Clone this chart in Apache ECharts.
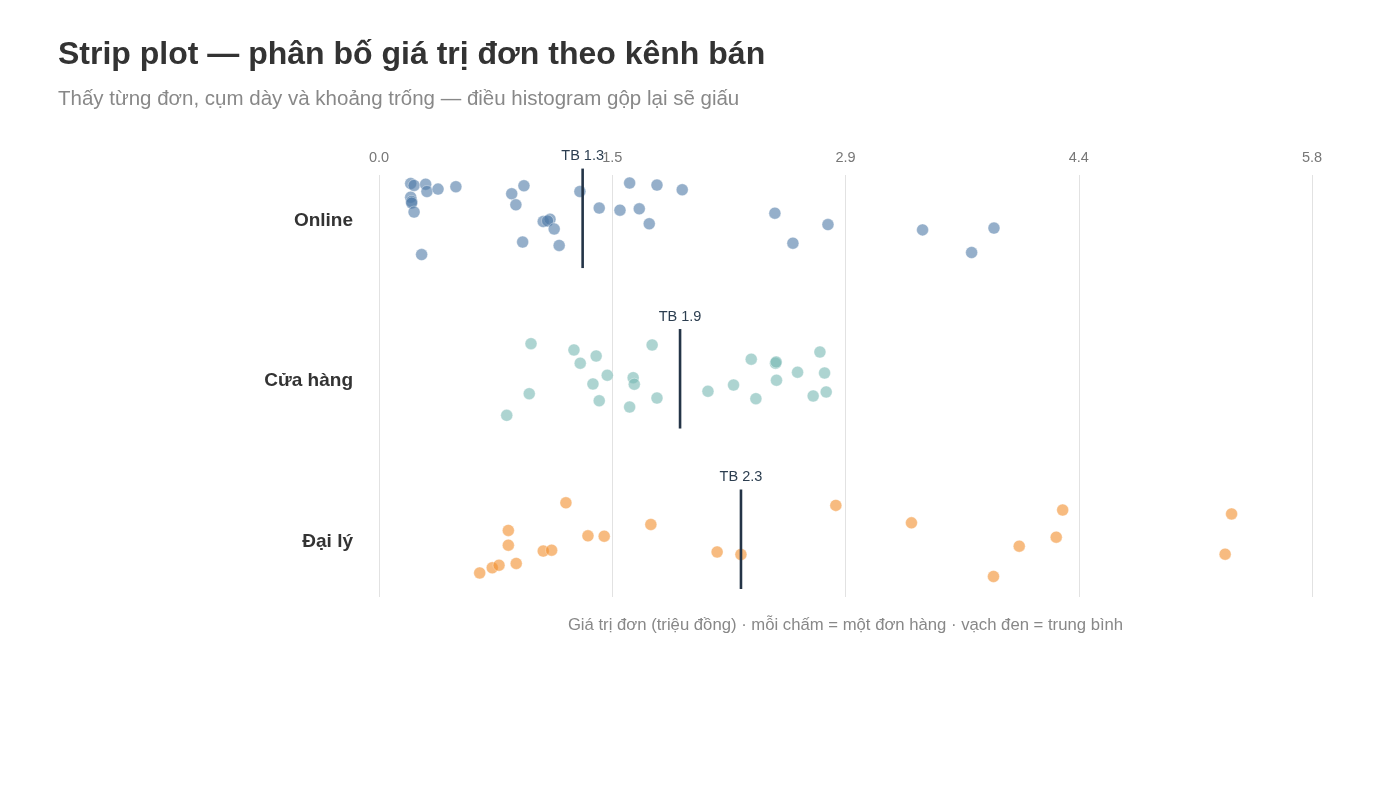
<!DOCTYPE html>
<html>
<head>
<meta charset="utf-8">
<script src="https://cdn.jsdelivr.net/npm/echarts@6/dist/echarts.min.js"></script>
<style>
html,body{margin:0;padding:0;background:#fff;}
#chart{width:1400px;height:787px;}
</style>
</head>
<body>
<div id="chart"></div>
<script>
// ---- Data ----
const categories = ['Online', 'Cửa hàng', 'Đại lý'];
const xTickLabels = ['0.0', '1.5', '2.9', '4.4', '5.8'];

// Order values (million VND)
const onlineValues = [0.197, 0.218, 0.290, 0.298, 0.367, 0.478, 0.197, 0.203, 0.203, 0.218, 0.265,
  0.825, 0.901, 0.851, 1.021, 1.063, 1.048, 1.089, 0.893, 1.120, 1.249, 1.369, 1.498, 1.618,
  1.558, 1.728, 1.885, 1.680, 2.461, 2.573, 2.791, 3.379, 3.684, 3.823];
const onlineJitter = [-0.217, -0.205, -0.213, -0.167, -0.182, -0.197, -0.132, -0.105, -0.095, -0.039, 0.226,
  -0.153, -0.203, -0.084, 0.020, 0.005, 0.016, 0.066, 0.148, 0.169, -0.167, -0.064, -0.051, -0.059,
  -0.220, -0.207, -0.178, 0.034, -0.032, 0.155, 0.039, 0.072, 0.213, 0.061];

const storeValues = [0.945, 1.212, 1.350, 1.251, 1.698, 1.419, 1.580, 1.587, 1.330, 0.934, 0.794, 1.369, 1.558,
  1.728, 2.045, 2.204, 2.314, 2.465, 2.469, 2.471, 2.343, 2.602, 2.741, 2.770, 2.699, 2.780];
const storeJitter = [-0.219, -0.180, -0.142, -0.097, -0.211, -0.022, -0.007, 0.034, 0.032, 0.093, 0.228, 0.137, 0.176,
  0.120, 0.078, 0.039, -0.122, -0.097, -0.105, 0.009, 0.124, -0.041, -0.167, -0.036, 0.107, 0.082];

const agentValues = [1.162, 0.804, 0.804, 1.299, 1.400, 1.690, 1.021, 1.073, 0.626, 0.704, 0.746, 0.853,
  2.102, 2.250, 2.840, 3.310, 3.820, 3.980, 4.210, 4.250, 5.300, 5.260];
const agentJitter = [-0.227, -0.055, 0.037, -0.021, -0.019, -0.092, 0.074, 0.068, 0.210, 0.178, 0.162, 0.151,
  0.079, 0.095, -0.211, -0.102, 0.232, 0.043, -0.013, -0.182, -0.158, 0.093];

const colors = ['#4e79a7', '#76b7b2', '#f28e2b'];

// ---- Build ----
const groups = [
  {values: onlineValues, jitter: onlineJitter},
  {values: storeValues, jitter: storeJitter},
  {values: agentValues, jitter: agentJitter}
];
const mean = a => a.reduce((s, v) => s + v, 0) / a.length;
const FONT = 'Liberation Sans, Arial, sans-serif';

const series = groups.map((g, i) => ({
  type: 'scatter',
  name: categories[i],
  symbolSize: 12,
  itemStyle: {color: colors[i], opacity: 0.6, borderColor: '#ffffff', borderWidth: 0.6},
  emphasis: {disabled: true},
  data: g.values.map((v, k) => [v, i + g.jitter[k]]),
  z: 2
}));

const meanData = groups.map((g, i) => [mean(g.values), i]);
series.push({
  type: 'custom',
  clip: false,
  z: 5,
  silent: true,
  data: meanData,
  renderItem: function (params, api) {
    const m = api.value(0), idx = api.value(1);
    const top = api.coord([m, idx - 0.31]);
    const bot = api.coord([m, idx + 0.31]);
    return {
      type: 'group',
      children: [
        {type: 'line', shape: {x1: top[0], y1: top[1], x2: bot[0], y2: bot[1]},
         style: {stroke: '#243447', lineWidth: 2.6}},
        {type: 'text', x: top[0], y: top[1] - 5,
         style: {text: 'TB ' + m.toFixed(1), fill: '#2c3e50', fontSize: 14.5,
                 fontFamily: FONT, align: 'center', verticalAlign: 'bottom'}}
      ]
    };
  }
});

const chart = echarts.init(document.getElementById('chart'), null, {renderer: 'canvas'});
chart.setOption({
  animation: false,
  backgroundColor: '#ffffff',
  textStyle: {fontFamily: FONT},
  title: {
    text: 'Strip plot — phân bố giá trị đơn theo kênh bán',
    subtext: 'Thấy từng đơn, cụm dày và khoảng trống — điều histogram gộp lại sẽ giấu',
    left: 53, top: 34, itemGap: 18,
    textStyle: {fontSize: 32, fontWeight: 'bold', color: '#333333', fontFamily: FONT},
    subtextStyle: {fontSize: 20.5, color: '#888888', fontFamily: FONT}
  },
  grid: {left: 379, right: 88, top: 175, bottom: 190, containLabel: false},
  xAxis: [{
    type: 'value', position: 'top', min: 0, max: 5.8, interval: 1.45,
    axisLine: {show: false}, axisTick: {show: false},
    axisLabel: {color: '#777777', fontSize: 14.5, margin: 10,
      formatter: v => xTickLabels[Math.round(v / 1.45)]},
    splitLine: {show: true, lineStyle: {color: '#e2e2e2', width: 1}}
  }, {
    type: 'value', position: 'bottom', min: 0, max: 5.8, interval: 1.45,
    axisLine: {show: false}, axisTick: {show: false}, axisLabel: {show: false}, splitLine: {show: false},
    name: 'Giá trị đơn (triệu đồng) · mỗi chấm = một đơn hàng · vạch đen = trung bình',
    nameLocation: 'middle', nameGap: 20,
    nameTextStyle: {color: '#888888', fontSize: 16.7}
  }],
  yAxis: {
    type: 'value', inverse: true, min: -0.27, max: 2.36,
    axisLine: {show: false}, axisTick: {show: false}, splitLine: {show: false},
    axisLabel: {customValues: [0.015, 1.015, 2.015], margin: 26, fontSize: 19, fontWeight: 'bold', color: '#333333',
      formatter: v => categories[Math.round(v)]}
  },
  series: series
});
</script>
</body>
</html>
